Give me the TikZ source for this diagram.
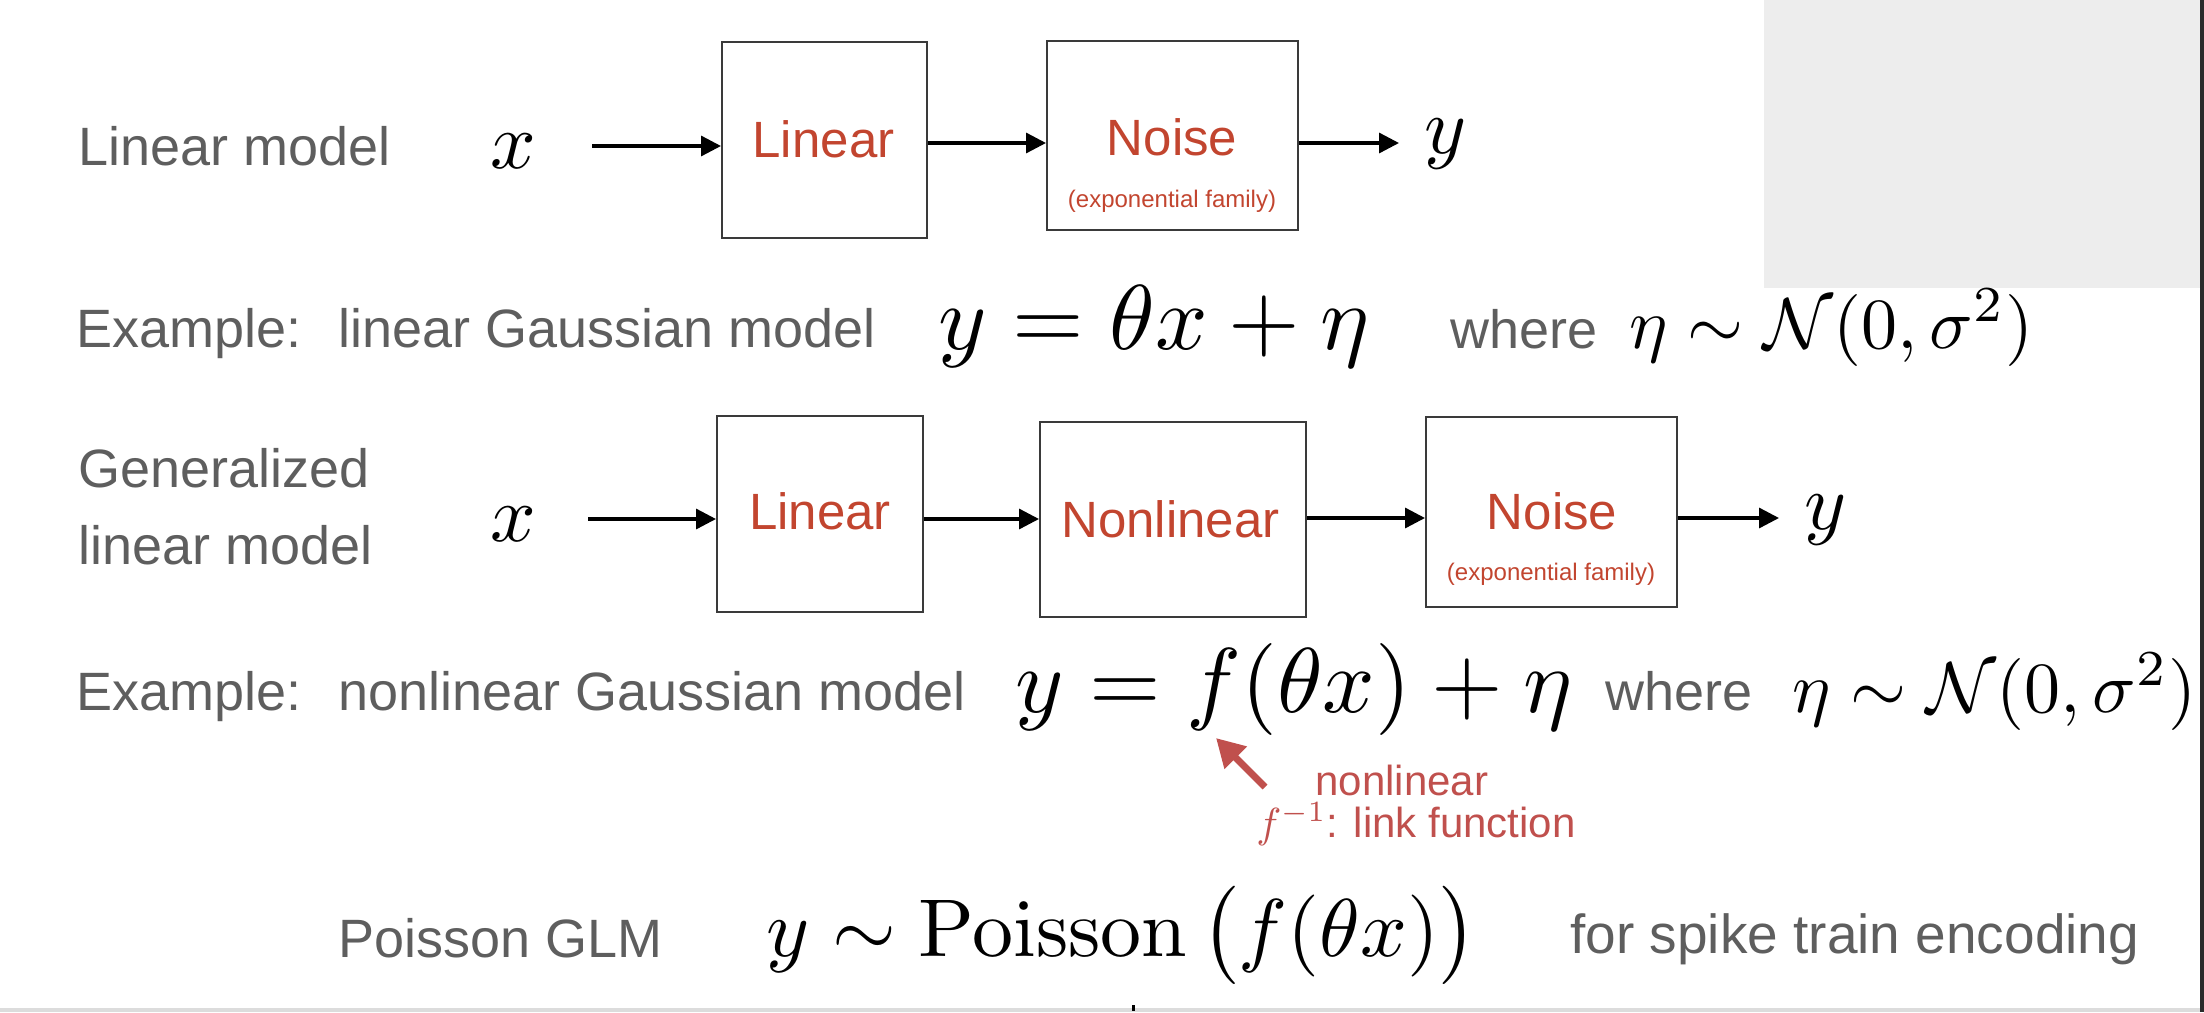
\RequirePackage{fix-cm}
\documentclass[tikz,border=0pt]{standalone}
\usepackage{amsmath}
\usepackage[no-math]{fontspec}
\setmainfont{Liberation Sans}
\usetikzlibrary{arrows.meta}
\definecolor{lblgray}{HTML}{5E5E5E}
\definecolor{boxred}{HTML}{C2452F}
\definecolor{annred}{HTML}{C0504D}
\definecolor{panel}{HTML}{EDEDED}
\definecolor{edgedark}{HTML}{2A2A2A}
\definecolor{barlight}{HTML}{DCDCDC}
\definecolor{boxline}{HTML}{3A3A3A}
% math set at 10pt and scaled, like an enlarged 10pt formula
\newcommand{\mscaled}[2]{\scalebox{#1}{\fontsize{10}{12}\selectfont$#2$}}
\begin{document}
\begin{tikzpicture}[x=0.5pt,y=-0.5pt,
  lbl/.style={anchor=base west,inner sep=0pt,text=lblgray,font=\fontsize{27}{32}\selectfont},
  mth/.style={anchor=base west,inner sep=0pt},
  blk/.style={draw=boxline,line width=1pt,inner sep=0pt},
  btxt/.style={anchor=base,inner sep=0pt,text=boxred,font=\fontsize{25.5}{31}\selectfont},
  bsub/.style={anchor=base,inner sep=0pt,text=boxred,font=\fontsize{12}{14}\selectfont},
  arr/.style={line width=1.65pt,-{Triangle[length=10pt,width=10pt]}},
  annarr/.style={annred,line width=3.5pt,-{Triangle[length=14pt,width=15pt]}},
  ann/.style={anchor=base west,inner sep=0pt,text=annred,font=\fontsize{21}{25}\selectfont},
]
\useasboundingbox (0,0) rectangle (2204,1012);
% background panels
\fill[panel] (1764,0) rectangle (2200,288);
\fill[barlight] (0,1008) rectangle (2200,1012);
\fill[edgedark] (2200,0) rectangle (2204,1012);
\fill[black] (1132,1005) rectangle (1135,1011);

% ---------- Row 1: linear model ----------
\node[lbl] (t1) at (78,165) {Linear model};
\node[mth] (x1) at (490,168) {\mscaled{4.0}{x}};
\node[blk,minimum width=102.5pt,minimum height=98pt] (lin1) at (824.5,140) {};
\node[btxt] (lin1t) at (823.5,157) {Linear};
\node[blk,minimum width=125.5pt,minimum height=94.5pt] (noise1) at (1172.5,135.5) {};
\node[btxt] (noise1t) at (1172,155) {Noise};
\node[bsub] (noise1s) at (1172,207) {(exponential family)};
\node[mth] (y1) at (1424,153) {\mscaled{4.0}{y}};
\coordinate (a1s) at (592,146);
\coordinate (r1) at (0,143);
\coordinate (a3e) at (1399,143);
\draw[arr] (a1s) -- (a1s -| lin1.west);
\draw[arr] (lin1.east |- r1) -- (noise1.west |- r1);
\draw[arr] (noise1.east |- r1) -- (a3e);

% ---------- Row 2: example ----------
\node[lbl] (ex1) at (76,347) {Example:};
\node[lbl] (ex1b) at (338,347) {linear Gaussian model};
\node[mth] (eq1) at (938,349) {\mscaled{4.6}{y = \theta x + \eta}};
\node[lbl] (wh1) at (1450,348) {where};
\node[mth] (n1) at (1629,348) {\mscaled{3.6}{\eta \sim \mathcal{N}(0,\sigma^2)}};

% ---------- Row 3: GLM ----------
\node[lbl] (t2a) at (78,487) {Generalized};
\node[lbl] (t2b) at (78,564) {linear model};
\node[mth] (x2) at (490,541) {\mscaled{4.0}{x}};
\node[blk,minimum width=102.75pt,minimum height=98pt] (lin2) at (819.75,514) {};
\node[btxt] (lin2t) at (820,529) {Linear};
\node[blk,minimum width=133pt,minimum height=97.5pt] (nonlin) at (1173,519.5) {};
\node[btxt] (nonlint) at (1170.5,537) {Nonlinear};
\node[blk,minimum width=125.5pt,minimum height=95pt] (noise2) at (1551.5,512) {};
\node[btxt] (noise2t) at (1552,529) {Noise};
\node[bsub] (noise2s) at (1551,580) {(exponential family)};
\node[mth] (y2) at (1804,529) {\mscaled{4.0}{y}};
\coordinate (b1s) at (588,519);
\coordinate (r2) at (0,519);
\coordinate (r3) at (0,518);
\coordinate (b4e) at (1779,518);
\draw[arr] (b1s) -- (b1s -| lin2.west);
\draw[arr] (lin2.east |- r2) -- (nonlin.west |- r2);
\draw[arr] (nonlin.east |- r3) -- (noise2.west |- r3);
\draw[arr] (noise2.east |- r3) -- (b4e);

% ---------- Row 4: example ----------
\node[lbl] (ex2) at (76,710) {Example:};
\node[lbl] (ex2b) at (338,710) {nonlinear Gaussian model};
\node[mth] (eq2) at (1015,712) {\mscaled{4.6}{y = f(\theta x) + \eta}};
\node[lbl] (wh2) at (1605,710) {where};
\node[mth] (n2) at (1792,712) {\mscaled{3.6}{\eta \sim \mathcal{N}(0,\sigma^2)}};
\coordinate (ftail) at (1265,787);
\coordinate (ftip) at (1216,738);
\draw[annarr] (ftail) -- (ftip);
\node[ann,text depth=0pt] (nl) at (1315,795) {nonlinear};
\node[ann,text height=14pt] (lf) at (1256,837) {\mscaled{2.1}{f^{-1}}: link function};

% ---------- Row 5: Poisson GLM ----------
\node[lbl] (t3) at (338,957) {Poisson GLM};
\node[mth] (eq3) at (766,956) {\mscaled{4.1}{y \sim \mathrm{Poisson}\,\bigl(f(\theta x)\bigr)}};
\node[lbl,font=\fontsize{27.5}{33}\selectfont] (sp) at (1570,953) {for spike train encoding};
\end{tikzpicture}
\end{document}
